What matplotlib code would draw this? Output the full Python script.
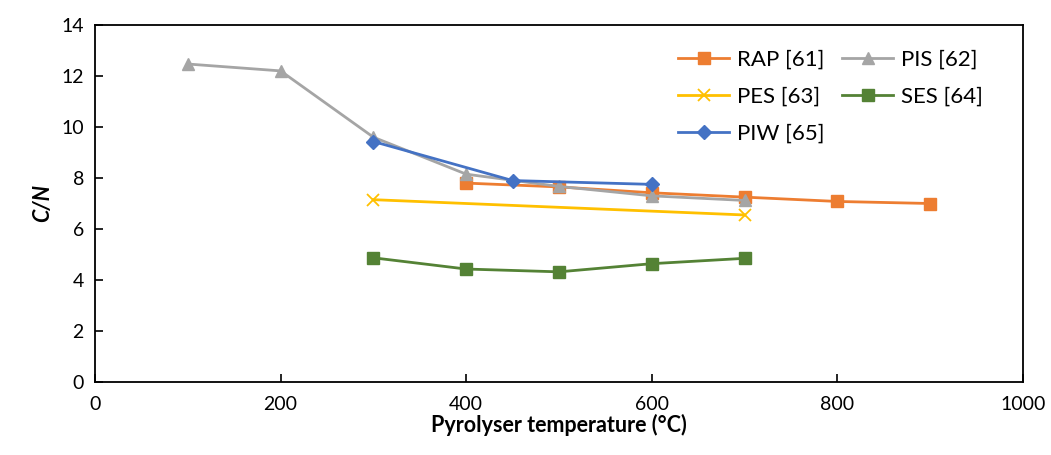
"""
C/N RATIO VS PYROLYSER TEMPERATURE
"""
import matplotlib.pyplot as plt

# Data
rap_t = [400, 500, 600, 700, 800, 900]
rap_cn = [7.8, 7.65, 7.42, 7.25, 7.08, 7.0]

pis_t = [100, 200, 300, 400, 500, 600, 700]
pis_cn = [12.47, 12.2, 9.6, 8.15, 7.67, 7.3, 7.12]

pes_t = [300, 700]
pes_cn = [7.15, 6.55]

ses_t = [300, 400, 500, 600, 700]
ses_cn = [4.87, 4.43, 4.32, 4.64, 4.85]

piw_t = [300, 450, 600]
piw_cn = [9.43, 7.9, 7.75]

x_ticks = [0, 200, 400, 600, 800, 1000]
y_ticks = [0, 2, 4, 6, 8, 10, 12, 14]

plt.rcParams['font.family'] = ['Lato', 'DejaVu Sans']

fig = plt.figure(figsize=(10.51, 4.55), dpi=100)
ax = fig.add_axes([95 / 1051, 1 - 382 / 455, 928 / 1051, 357 / 455])

lw = 2.0
rap, = ax.plot(rap_t, rap_cn, color='#ED7D31', lw=lw, marker='s', ms=8, label='RAP [61]')
pis, = ax.plot(pis_t, pis_cn, color='#A5A5A5', lw=lw, marker='^', ms=9, label='PIS [62]')
pes, = ax.plot(pes_t, pes_cn, color='#FFC000', lw=lw, marker='x', ms=9, mew=1.3, label='PES [63]')
ses, = ax.plot(ses_t, ses_cn, color='#548235', lw=lw, marker='s', ms=9, label='SES [64]')
piw, = ax.plot(piw_t, piw_cn, color='#4472C4', lw=lw, marker='D', ms=7, label='PIW [65]')

ax.set_xlim(0, 1000)
ax.set_ylim(0, 14)
ax.set_xticks(x_ticks)
ax.set_yticks(y_ticks)
ax.tick_params(direction='in', length=6, width=1.2, labelsize=14, colors='black')
ax.tick_params(axis='x', pad=10)
ax.tick_params(axis='y', pad=8)
for s in ax.spines.values():
    s.set_linewidth(1.3)

ax.set_xlabel('Pyrolyser temperature (°C)', fontsize=15.5, fontweight='bold', labelpad=1)
ax.set_ylabel('C/N', fontsize=15.5, fontweight='bold', fontstyle='italic', labelpad=6)

# Legend filled row by row, like the original
handles = [rap, pes, piw, pis, ses]
ax.legend(handles=handles, labels=[h.get_label() for h in handles], ncol=2,
          loc='upper left', bbox_to_anchor=(658 / 1051, 1 - 30 / 455),
          bbox_transform=fig.transFigure, frameon=False,
          fontsize=16, handlelength=2.3, columnspacing=0.8, handletextpad=0.35,
          labelspacing=0.75, borderpad=0.4)

fig.savefig('out.png', dpi=100)
